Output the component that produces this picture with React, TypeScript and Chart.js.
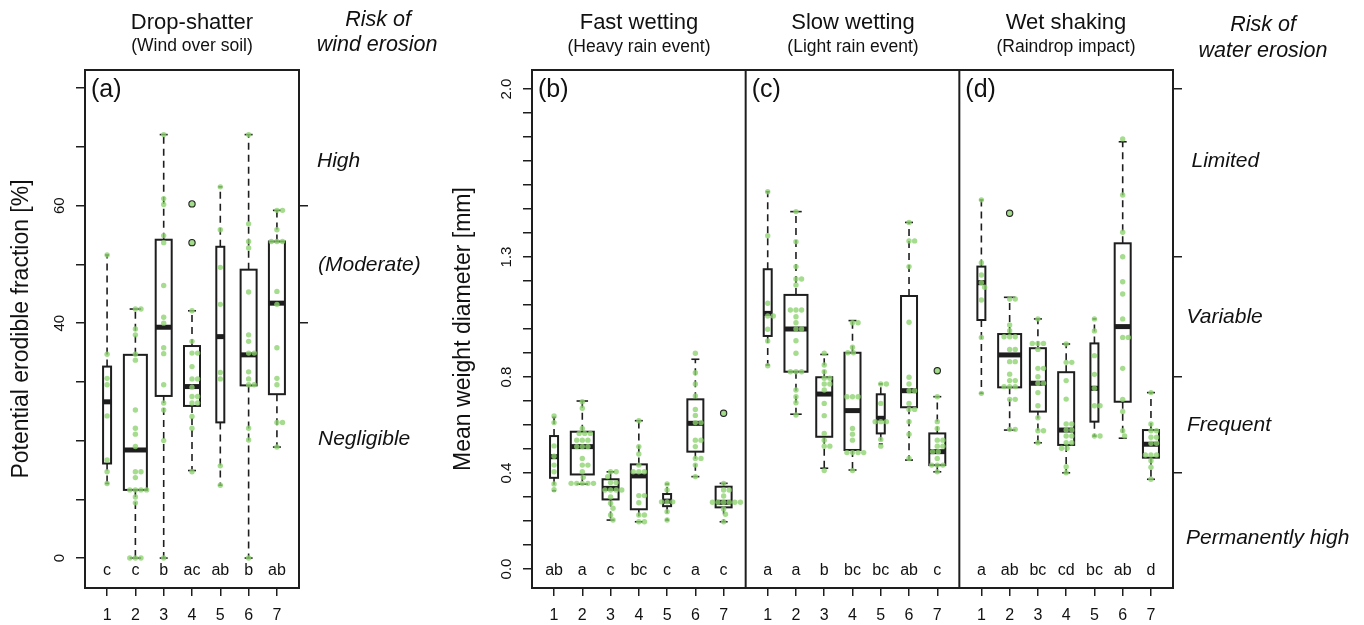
import React, { useEffect, useRef } from 'react';
import { Chart, registerables } from 'chart.js';

Chart.register(...registerables);

// ---------------- data ----------------
const SITES = [1, 2, 3, 4, 5, 6, 7];

// Panel (a) Drop-shatter: potential erodible fraction [%]
// box stats: [lower whisker, Q1, median, Q3, upper whisker]
const BOX_A = [
  [12.7, 16.1, 26.6, 32.6, 51.6],
  [0, 11.6, 18.4, 34.6, 42.4],
  [0, 27.6, 39.3, 54.2, 72.1],
  [14.9, 25.9, 29.2, 36.1, 42.1],
  [12.4, 23.1, 37.7, 53.0, 63.2],
  [0, 29.4, 34.6, 49.1, 72.1],
  [18.9, 27.9, 43.4, 53.9, 59.2],
];
const OUT_A = [[], [], [], [60.3, 53.7], [], [], []];
const LETTERS_A = ['c', 'c', 'b', 'ac', 'ab', 'b', 'ab'];
const PTS_A = [
  [51.6, 34.7, 30.6, 29.5, 24.2, 16.7, 14.7, 12.7],
  [42.4, 42.4, 39.0, 38.0, 34.7, 33.7, 25.2, 22.1, 21.1, 19.0, 14.7, 14.7, 13.7, 11.6, 11.6, 11.6, 11.6, 10.4, 9.4, 0, 0, 0],
  [72.1, 61.2, 60.2, 54.9, 53.7, 46.4, 41.0, 40.0, 35.8, 34.8, 29.5, 26.4, 25.2, 20.0, 0],
  [60.3, 53.7, 42.1, 36.9, 34.9, 34.9, 32.6, 30.5, 30.5, 29.1, 27.5, 27.5, 26.4, 26.4, 24.1, 22.1, 14.7],
  [63.2, 55.9, 49.5, 43.2, 31.6, 30.5, 15.7, 12.4],
  [72.1, 56.9, 53.9, 52.8, 45.3, 38.0, 36.9, 34.9, 34.9, 31.7, 30.5, 29.5, 29.5, 22.1, 20.1, 0],
  [59.2, 59.2, 55.9, 53.9, 53.9, 53.9, 45.4, 43.2, 35.8, 30.6, 29.5, 23.1, 23.1, 18.9],
];
const TICKS_A = [0, 10, 20, 30, 40, 50, 60, 70, 80];
const TICK_LABELS_A = [0, 40, 60];
const RIGHT_TICKS_A = [40, 60];

// Panel (b) Fast wetting: mean weight diameter [mm]
const BOX_B = [
  [0.326, 0.380, 0.468, 0.554, 0.632],
  [0.354, 0.394, 0.510, 0.572, 0.700],
  [0.204, 0.290, 0.336, 0.374, 0.405],
  [0.197, 0.249, 0.388, 0.436, 0.618],
  [0.204, 0.262, 0.283, 0.3125, 0.354],
  [0.385, 0.489, 0.607, 0.707, 0.874],
  [0.197, 0.257, 0.278, 0.343, 0.357],
];
const OUT_B = [[], [], [], [], [], [], [0.649]];
const LETTERS_B = ['ab', 'a', 'c', 'bc', 'c', 'a', 'c'];
const PTS_B = [
  [0.638, 0.610, 0.513, 0.470, 0.433, 0.405, 0.354, 0.330],
  [0.697, 0.670, 0.586, 0.565, 0.565, 0.565, 0.537, 0.537, 0.537, 0.510, 0.510, 0.510, 0.461, 0.433, 0.433, 0.405, 0.382, 0.357, 0.357, 0.357, 0.357, 0.357],
  [0.405, 0.405, 0.385, 0.360, 0.360, 0.329, 0.329, 0.329, 0.329, 0.300, 0.274, 0.253, 0.225, 0.204],
  [0.618, 0.510, 0.479, 0.433, 0.405, 0.405, 0.405, 0.306, 0.306, 0.276, 0.225, 0.225, 0.197, 0.197],
  [0.354, 0.329, 0.280, 0.280, 0.280, 0.239, 0.204],
  [0.899, 0.818, 0.771, 0.721, 0.665, 0.640, 0.610, 0.610, 0.537, 0.537, 0.510, 0.461, 0.461, 0.433, 0.385],
  [0.649, 0.357, 0.329, 0.329, 0.304, 0.278, 0.278, 0.278, 0.278, 0.278, 0.278, 0.250, 0.228, 0.197],
];

// Panel (c) Slow wetting
const BOX_C = [
  [0.85, 0.971, 1.065, 1.249, 1.572],
  [0.645, 0.822, 1.0, 1.142, 1.489],
  [0.42, 0.551, 0.729, 0.799, 0.894],
  [0.4125, 0.496, 0.66, 0.901, 1.035],
  [0.521, 0.565, 0.628, 0.728, 0.771],
  [0.454, 0.674, 0.743, 1.1375, 1.444],
  [0.405, 0.433, 0.489, 0.565, 0.718],
];
const OUT_C = [[], [], [], [], [], [], [0.826]];
const LETTERS_C = ['a', 'a', 'b', 'bc', 'bc', 'ab', 'c'];
const PTS_C = [
  [1.572, 1.389, 1.107, 1.054, 1.054, 0.999, 0.950, 0.847],
  [1.489, 1.364, 1.260, 1.208, 1.208, 1.183, 1.079, 1.079, 1.079, 1.051, 1.026, 1.000, 1.000, 0.951, 0.899, 0.822, 0.822, 0.822, 0.746, 0.718, 0.693, 0.642],
  [0.899, 0.850, 0.822, 0.795, 0.795, 0.771, 0.771, 0.746, 0.690, 0.639, 0.565, 0.537, 0.512, 0.512, 0.410],
  [1.026, 1.026, 0.924, 0.901, 0.901, 0.718, 0.718, 0.718, 0.586, 0.562, 0.537, 0.485, 0.485, 0.485, 0.485, 0.410],
  [0.771, 0.771, 0.690, 0.614, 0.614, 0.614, 0.540, 0.512],
  [1.444, 1.367, 1.367, 1.260, 1.028, 0.799, 0.771, 0.743, 0.743, 0.690, 0.665, 0.665, 0.614, 0.562, 0.461],
  [0.826, 0.718, 0.614, 0.586, 0.537, 0.537, 0.512, 0.512, 0.489, 0.489, 0.461, 0.433, 0.433, 0.433, 0.405],
];

// Panel (d) Wet shaking
const BOX_D = [
  [0.732, 1.0375, 1.193, 1.26, 1.5375],
  [0.579, 0.757, 0.892, 0.979, 1.132],
  [0.526, 0.656, 0.774, 0.92, 1.042],
  [0.401, 0.517, 0.579, 0.82, 0.9375],
  [0.554, 0.614, 0.753, 0.94, 1.042],
  [0.545, 0.697, 1.01, 1.357, 1.78],
  [0.374, 0.464, 0.52, 0.579, 0.735],
];
const OUT_D = [[], [1.482], [], [], [], [], []];
const LETTERS_D = ['a', 'ab', 'bc', 'cd', 'bc', 'ab', 'd'];
const PTS_D = [
  [1.538, 1.276, 1.225, 1.193, 1.174, 1.121, 0.965, 0.732],
  [1.482, 1.125, 1.125, 1.017, 0.993, 0.968, 0.968, 0.968, 0.915, 0.915, 0.864, 0.864, 0.812, 0.785, 0.785, 0.760, 0.760, 0.760, 0.707, 0.707, 0.582, 0.582],
  [1.042, 0.940, 0.940, 0.940, 0.915, 0.836, 0.836, 0.801, 0.774, 0.774, 0.735, 0.680, 0.630, 0.576, 0.576, 0.526],
  [0.938, 0.861, 0.861, 0.785, 0.708, 0.604, 0.604, 0.579, 0.579, 0.554, 0.554, 0.526, 0.526, 0.503, 0.503, 0.426, 0.401],
  [1.042, 0.992, 0.889, 0.811, 0.753, 0.680, 0.680, 0.554, 0.554],
  [1.792, 1.558, 1.403, 1.301, 1.197, 1.146, 1.042, 0.965, 0.965, 0.836, 0.707, 0.656, 0.576, 0.554],
  [0.735, 0.604, 0.576, 0.576, 0.549, 0.549, 0.524, 0.524, 0.475, 0.475, 0.475, 0.451, 0.424, 0.374],
];

const TICKS_MWD = [0, 0.1, 0.2, 0.3, 0.4, 0.5, 0.6, 0.7, 0.8, 0.9, 1.0, 1.1, 1.2, 1.3, 1.4, 1.5, 1.6, 1.7, 1.8, 1.9, 2.0];
const TICK_LABELS_MWD = [0.0, 0.4, 0.8, 1.3, 2.0];
const RIGHT_TICKS_MWD = [0.4, 0.8, 1.3, 2.0];

// ---------------- styles / layout ----------------
const FONT = '"Liberation Sans", Arial, Helvetica, sans-serif';
const INK = '#1e1e1e';
const TEXT = '#111111';
const GREEN = 'rgba(140, 210, 110, 0.78)';
const BOX_WIDTH_PX = [8, 23, 16, 16, 8, 16, 16];
const DOT_R = 2.7;
const DOT_SPACING = 5.6;
const PANEL_SPAN = 7.56;
const X_MIN = 0.22;
const B_LEFT = 440;

type Panel = { offset: number; box: number[][]; out: number[][]; letters: string[]; pts: number[][]; tag: string };

const PANELS_A: Panel[] = [{ offset: 0, box: BOX_A, out: OUT_A, letters: LETTERS_A, pts: PTS_A, tag: '(a)' }];
const PANELS_B: Panel[] = [
  { offset: 0, box: BOX_B, out: OUT_B, letters: LETTERS_B, pts: PTS_B, tag: '(b)' },
  { offset: PANEL_SPAN, box: BOX_C, out: OUT_C, letters: LETTERS_C, pts: PTS_C, tag: '(c)' },
  { offset: 2 * PANEL_SPAN, box: BOX_D, out: OUT_D, letters: LETTERS_D, pts: PTS_D, tag: '(d)' },
];

function swarm(ys: number[], d: number): number[] {
  const order = ys.map((_, i) => i).sort((a, b) => ys[a] - ys[b]);
  const placed: { x: number; y: number }[] = [];
  const out = new Array(ys.length).fill(0);
  for (const i of order) {
    const y = ys[i];
    const cands = [0];
    for (const p of placed) {
      const dy = Math.abs(p.y - y);
      if (dy < d) {
        const w = Math.sqrt(d * d - dy * dy);
        cands.push(p.x + w, p.x - w);
      }
    }
    cands.sort((a, b) => Math.abs(a) - Math.abs(b));
    let chosen = 0;
    for (const c of cands) {
      if (placed.every((p) => (p.x - c) ** 2 + (p.y - y) ** 2 >= d * d - 0.01)) {
        chosen = c;
        break;
      }
    }
    placed.push({ x: chosen, y });
    out[i] = chosen;
  }
  return out;
}

function txt(ctx: CanvasRenderingContext2D, s: string, x: number, y: number, size: number, align: CanvasTextAlign = 'center', italic = false, rot = false) {
  ctx.save();
  ctx.font = `${italic ? 'italic ' : ''}${size}px ${FONT}`;
  ctx.fillStyle = TEXT;
  ctx.textAlign = align;
  ctx.textBaseline = 'alphabetic';
  ctx.translate(x, y);
  if (rot) ctx.rotate(-Math.PI / 2);
  ctx.fillText(s, 0, 0);
  ctx.restore();
}

function seg(ctx: CanvasRenderingContext2D, x1: number, y1: number, x2: number, y2: number) {
  ctx.beginPath();
  ctx.moveTo(x1, y1);
  ctx.lineTo(x2, y2);
  ctx.stroke();
}

function drawBoxes(chart: any, panels: Panel[]) {
  const ctx: CanvasRenderingContext2D = chart.ctx;
  const xs = chart.scales.x;
  const ys = chart.scales.y;
  ctx.save();
  ctx.strokeStyle = INK;
  ctx.lineCap = 'butt';
  panels.forEach((p) => {
    p.box.forEach((b, i) => {
      const cx = xs.getPixelForValue(SITES[i] + p.offset);
      const w = BOX_WIDTH_PX[i];
      const [lo, q1, med, q3, hi] = b.map((v) => ys.getPixelForValue(v));
      ctx.lineWidth = 1.6;
      ctx.setLineDash([7, 5]);
      seg(ctx, cx, q3, cx, hi);
      seg(ctx, cx, q1, cx, lo);
      ctx.setLineDash([]);
      seg(ctx, cx - w / 4, hi, cx + w / 4, hi);
      seg(ctx, cx - w / 4, lo, cx + w / 4, lo);
      ctx.lineWidth = 2;
      ctx.strokeRect(cx - w / 2, q3, w, q1 - q3);
      ctx.lineWidth = 5;
      seg(ctx, cx - w / 2, med, cx + w / 2, med);
      ctx.lineWidth = 1.4;
      p.out[i].forEach((v) => {
        ctx.beginPath();
        ctx.arc(cx, ys.getPixelForValue(v), 3, 0, Math.PI * 2);
        ctx.stroke();
      });
    });
  });
  ctx.restore();
}

function drawFrame(chart: any, separators: number[]) {
  const ctx: CanvasRenderingContext2D = chart.ctx;
  const a = chart.chartArea;
  ctx.save();
  ctx.strokeStyle = INK;
  ctx.lineWidth = 2;
  ctx.strokeRect(a.left, a.top, a.right - a.left, a.bottom - a.top);
  separators.forEach((v) => {
    const x = chart.scales.x.getPixelForValue(v);
    seg(ctx, x, a.top, x, a.bottom);
  });
  ctx.restore();
}

function drawPanelText(chart: any, panels: Panel[], tickLabels: number[], fmt: (v: number) => string, yTitle: string, yTitleX: number) {
  const ctx: CanvasRenderingContext2D = chart.ctx;
  const a = chart.chartArea;
  const xs = chart.scales.x;
  const ys = chart.scales.y;
  tickLabels.forEach((v) => txt(ctx, fmt(v), a.left - 21, ys.getPixelForValue(v), 15, 'center', false, true));
  txt(ctx, yTitle, yTitleX, (a.top + a.bottom) / 2, 23, 'center', false, true);
  panels.forEach((p) => {
    const left = xs.getPixelForValue(X_MIN + p.offset);
    txt(ctx, p.tag, left + 6, 97, 25, 'left');
    p.letters.forEach((l, i) => txt(ctx, l, xs.getPixelForValue(SITES[i] + p.offset), a.bottom - 13, 16));
  });
}

function baseScales(xMax: number, yMin: number, yMax: number, ticks: number[], rightTicks: number[], xLabel: (v: number, i: number) => string) {
  const grid = { drawOnChartArea: false, drawTicks: true, tickLength: 9, color: INK, lineWidth: 1.5 };
  return {
    x: {
      type: 'linear',
      position: 'bottom',
      min: X_MIN,
      max: xMax,
      bounds: 'data',
      afterBuildTicks: (s: any) => {
        const vals: number[] = [];
        const n = Math.round((xMax - X_MIN) / PANEL_SPAN);
        for (let k = 0; k < n; k++) SITES.forEach((v) => vals.push(v + k * PANEL_SPAN));
        s.ticks = vals.map((v) => ({ value: v }));
      },
      afterFit: (s: any) => {
        s.height = 37;
      },
      grid: { ...grid, tickLength: 8 },
      border: { display: false },
      ticks: {
        autoSkip: false,
        maxRotation: 0,
        minRotation: 0,
        padding: 10,
        color: TEXT,
        font: { size: 16, family: FONT },
        callback: (v: number, i: number) => xLabel(v, i),
      },
    },
    y: {
      type: 'linear',
      position: 'left',
      min: yMin,
      max: yMax,
      bounds: 'data',
      afterBuildTicks: (s: any) => {
        s.ticks = ticks.map((v) => ({ value: v }));
      },
      grid,
      border: { display: false },
      ticks: { display: false },
    },
    yR: {
      type: 'linear',
      position: 'right',
      min: yMin,
      max: yMax,
      bounds: 'data',
      afterBuildTicks: (s: any) => {
        s.ticks = rightTicks.map((v) => ({ value: v }));
      },
      grid,
      border: { display: false },
      ticks: { display: false },
    },
  };
}

function centerPoints(panels: Panel[]) {
  return panels.flatMap((p) => p.pts.flatMap((vals, i) => vals.map((v) => ({ x: SITES[i] + p.offset, y: v }))));
}

function applySwarm(chart: any, panels: Panel[]) {
  const xs = chart.scales.x;
  const ys = chart.scales.y;
  const ppu = xs.getPixelForValue(1) - xs.getPixelForValue(0);
  chart.data.datasets[0].data = panels.flatMap((p) =>
    p.pts.flatMap((vals, i) => {
      const off = swarm(vals.map((v) => ys.getPixelForValue(v)), DOT_SPACING);
      return vals.map((v, k) => ({ x: SITES[i] + p.offset + off[k] / ppu, y: v }));
    })
  );
  chart.update('none');
}

function makeConfig(panels: Panel[], scales: any, padding: any, plugin: any) {
  return {
    type: 'scatter',
    data: {
      datasets: [
        {
          data: centerPoints(panels),
          pointRadius: DOT_R,
          pointHoverRadius: DOT_R,
          pointBackgroundColor: GREEN,
          pointBorderWidth: 0,
          borderWidth: 0,
          showLine: false,
        },
      ],
    },
    options: {
      responsive: false,
      maintainAspectRatio: false,
      animation: false,
      devicePixelRatio: 1,
      events: [],
      layout: { padding },
      plugins: { legend: { display: false }, tooltip: { enabled: false } },
      scales,
    },
    plugins: [plugin],
  };
}

export default function App() {
  const refA = useRef<HTMLCanvasElement>(null);
  const refB = useRef<HTMLCanvasElement>(null);

  useEffect(() => {
    const pluginA = {
      id: 'panelA',
      beforeDatasetsDraw: (chart: any) => drawBoxes(chart, PANELS_A),
      afterDraw: (chart: any) => {
        const ctx = chart.ctx;
        drawFrame(chart, []);
        drawPanelText(chart, PANELS_A, TICK_LABELS_A, (v) => String(v), 'Potential erodible fraction [%]', 28);
        txt(ctx, 'Drop-shatter', 192, 29, 22);
        txt(ctx, '(Wind over soil)', 192, 51, 17.5);
        txt(ctx, 'Risk of', 378, 26, 21.5, 'center', true);
        txt(ctx, 'wind erosion', 377, 51, 21.5, 'center', true);
        txt(ctx, 'High', 317, 167, 21, 'left', true);
        txt(ctx, '(Moderate)', 318, 271, 21, 'left', true);
        txt(ctx, 'Negligible', 318, 445, 21, 'left', true);
      },
    };
    const pluginB = {
      id: 'panelB',
      beforeDatasetsDraw: (chart: any) => drawBoxes(chart, PANELS_B),
      afterDraw: (chart: any) => {
        const ctx = chart.ctx;
        drawFrame(chart, [X_MIN + PANEL_SPAN, X_MIN + 2 * PANEL_SPAN]);
        drawPanelText(chart, PANELS_B, TICK_LABELS_MWD, (v) => v.toFixed(1), 'Mean weight diameter [mm]', 470 - B_LEFT);
        const L = B_LEFT;
        txt(ctx, 'Fast wetting', 639 - L, 29, 22);
        txt(ctx, '(Heavy rain event)', 639 - L, 51.5, 17.5);
        txt(ctx, 'Slow wetting', 853 - L, 29, 22);
        txt(ctx, '(Light rain event)', 853 - L, 51.5, 17.5);
        txt(ctx, 'Wet shaking', 1066 - L, 29, 22);
        txt(ctx, '(Raindrop impact)', 1066 - L, 51.5, 17.5);
        txt(ctx, 'Risk of', 1263 - L, 31, 21.5, 'center', true);
        txt(ctx, 'water erosion', 1263 - L, 56.5, 21.5, 'center', true);
        txt(ctx, 'Limited', 1191.5 - L, 167, 21, 'left', true);
        txt(ctx, 'Variable', 1186.5 - L, 323, 21, 'left', true);
        txt(ctx, 'Frequent', 1187 - L, 431, 21, 'left', true);
        txt(ctx, 'Permanently high', 1186 - L, 543.5, 21, 'left', true);
      },
    };

    const scalesA = baseScales(X_MIN + PANEL_SPAN, -5.1, 83.1, TICKS_A, RIGHT_TICKS_A, (v) => String(Math.round(v)));
    const scalesB = baseScales(X_MIN + 3 * PANEL_SPAN, -0.079, 2.079, TICKS_MWD, RIGHT_TICKS_MWD, (_v, i) => String((i % 7) + 1));

    const chartA = new Chart(refA.current as HTMLCanvasElement, makeConfig(PANELS_A, scalesA, { left: 76, right: 132, top: 70, bottom: 0 }, pluginA) as any);
    const chartB = new Chart(refB.current as HTMLCanvasElement, makeConfig(PANELS_B, scalesB, { left: 83, right: 182, top: 70, bottom: 0 }, pluginB) as any);
    applySwarm(chartA, PANELS_A);
    applySwarm(chartB, PANELS_B);
    return () => {
      chartA.destroy();
      chartB.destroy();
    };
  }, []);

  return (
    <div style={{ position: 'fixed', left: 0, top: 0, width: 1364, height: 625, background: '#ffffff' }}>
      <canvas ref={refA} width={440} height={625} style={{ position: 'absolute', left: 0, top: 0, width: 440, height: 625 }} />
      <canvas ref={refB} width={924} height={625} style={{ position: 'absolute', left: B_LEFT, top: 0, width: 924, height: 625 }} />
    </div>
  );
}
